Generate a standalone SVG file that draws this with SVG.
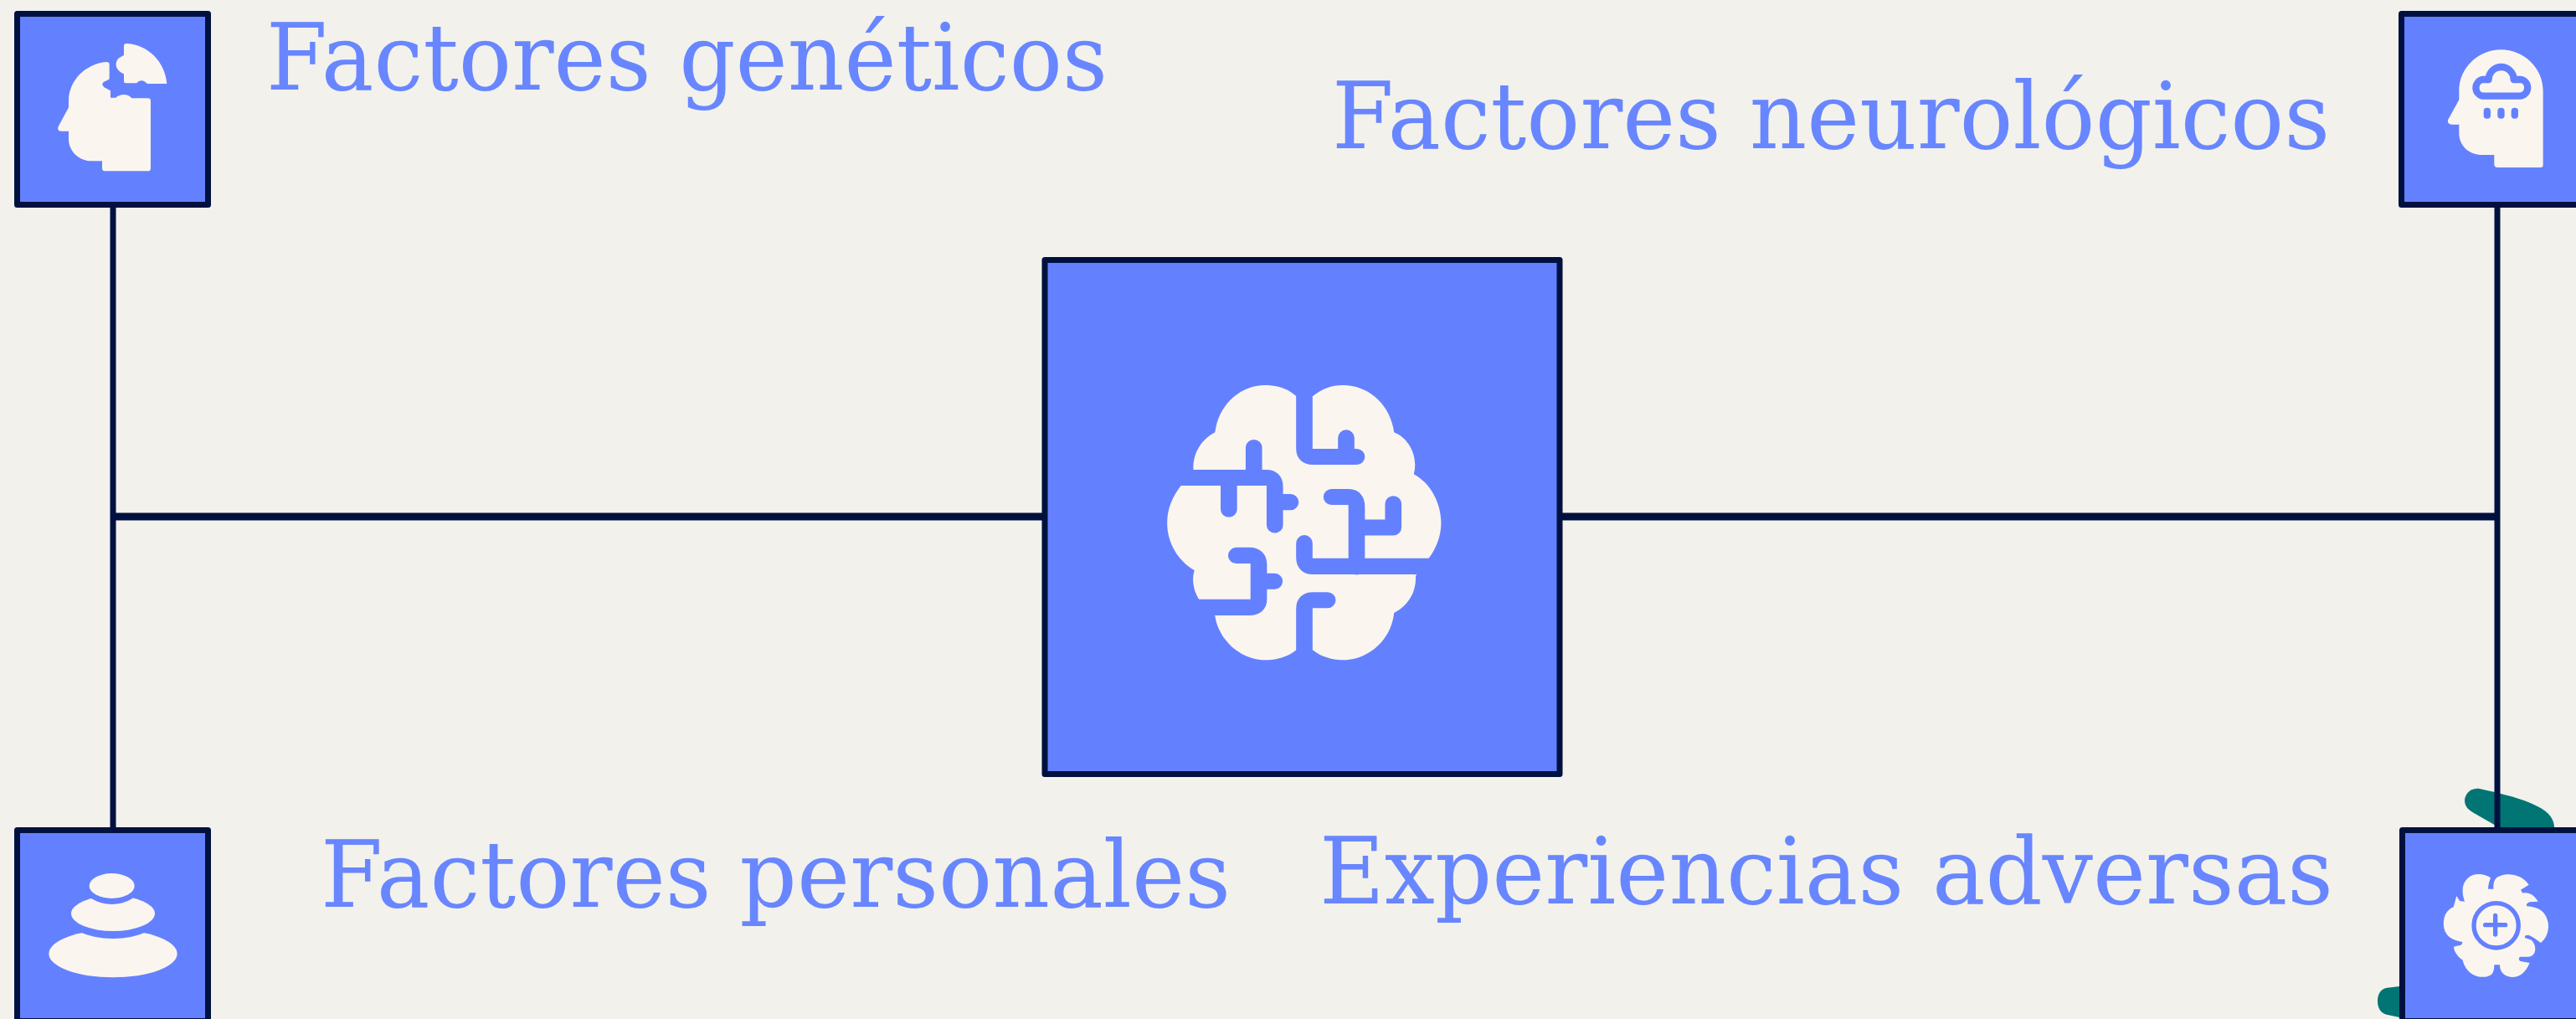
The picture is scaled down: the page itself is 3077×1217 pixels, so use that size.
<svg xmlns="http://www.w3.org/2000/svg" width="3077" height="1217" viewBox="0 0 3077 1217">
<style>
.box{fill:#6381ff;stroke:#00113f;stroke-width:7;stroke-linejoin:round}
.line{fill:none;stroke:#00113f;stroke-width:7}
.hline{fill:none;stroke:#00113f;stroke-width:9}
.ico{fill:#fbf5f0}
.blue{fill:#6381ff}
.cut{fill:none;stroke:#6381ff;stroke-linecap:round;stroke-linejoin:round}
.lbl{font-family:"DejaVu Serif","Liberation Serif",serif;font-size:110px;fill:#6886ff}
</style>
<rect width="3077" height="1217" fill="#f2f1ec"/>
<g id="blobs" fill="#007574">
<path d="M2962 942C2950 940 2944 950 2944 956C2944 964 2950 968 2955 971L2990 991L3051 991C3052 975 3040 966 3020 958C3005 952 2985 947 2962 942Z"/>
<path d="M2866 1178L2850 1180C2842 1182 2840 1190 2840 1196C2840 1206 2846 1211 2852 1212L2866 1215Z"/>
</g>
<g id="connectors">
<path class="line" d="M135 248V988M2983 248V988"/>
<path class="hline" d="M135 617H1245M1866 617H2983"/>
</g>
<g id="node-center">
<rect class="box" x="1248" y="310.500" width="615" height="614"/>
<g transform="translate(1200 280) scale(.4464 .4337)">
<path class="ico" d="M825 445C850 425 875 415 905 415C975 415 1033 470 1042 545C1080 560 1108 610 1095 660C1140 685 1168 740 1168 795C1168 830 1155 865 1135 892L1100 940C1102 990 1075 1025 1042 1042C1035 1115 975 1172 905 1172C875 1172 845 1162 825 1145H780C760 1162 730 1172 697 1172C630 1172 572 1115 563 1050L520 1005C505 980 500 950 508 925C465 900 435 850 435 795C435 755 450 720 472 692L505 648C503 605 525 565 563 545C572 470 630 415 697 415C730 415 760 425 780 445Z"/>
<g class="cut" stroke-width="44">
<path d="M802 400V590Q802 612 825 612H942M914 560V612"/>
<path d="M440 670H700Q723 670 723 695V800M667 587V670M600 670V757M723 737H765"/>
<path d="M875 723H920Q942 723 942 750V915M942 807H1040V742"/>
<path d="M802 850V890Q802 914 825 914H1170"/>
<path d="M620 884H655Q680 884 680 910V1005Q680 1027 655 1027H500M680 955H722"/>
<path d="M864 1007H825Q802 1007 802 1030V1190"/>
</g>
</g>
</g>
<g id="node-geneticos">
<rect class="box" x="20.500" y="16.500" width="228" height="228"/>
<g transform="scale(.3333)">
<path class="ico" d="M382 222C305 228 246 290 246 362V385L208 455Q204 470 222 470H246V500C248 545 285 577 330 577H366V605Q368 613 376 613H530Q540 613 540 603V362Q540 352 530 352H472C460 335 430 335 415 350H396V325C385 318 362 312 368 298C372 290 385 290 392 282V232Q392 222 382 222Z"/>
<path class="ico" d="M452 156C530 158 592 222 598 300H528C515 285 500 285 490 298H450Q444 298 444 290V265C425 258 410 240 418 220C422 208 432 204 444 198V165Q444 156 452 156Z"/>
</g>
</g>
<g id="node-neurologicos">
<rect class="box" x="2868.500" y="16.500" width="228" height="228"/>
<g transform="translate(2820 0) scale(.3333)">
<path class="ico" d="M502 178C420 178 352 245 352 325V358L312 430Q310 446 326 446H352V480C354 525 390 555 435 555H478V590Q480 600 490 600H645Q653 600 653 590V325C653 245 585 178 502 178Z"/>
<path d="M436 344H570A30 30 0 0 0 575 285H548A45 45 0 0 0 458 285H438A30 30 0 0 0 436 344Z" fill="none" stroke="#6381ff" stroke-width="25" stroke-linejoin="round"/>
<g class="blue"><rect x="440" y="386" width="25" height="39" rx="12"/><rect x="490" y="386" width="25" height="39" rx="12"/><rect x="539" y="386" width="25" height="39" rx="12"/></g>
</g>
</g>
<g id="node-personales">
<rect class="box" x="20.500" y="991.500" width="228" height="228"/>
<g transform="translate(0 960) scale(.3333)">
<ellipse class="ico" cx="405" cy="537" rx="230" ry="85"/>
<ellipse class="blue" cx="405" cy="393" rx="175" ry="90"/>
<ellipse class="ico" cx="405" cy="393" rx="150" ry="63"/>
<ellipse class="blue" cx="401" cy="294" rx="100" ry="66"/>
<ellipse class="ico" cx="401" cy="294" rx="81" ry="45"/>
</g>
</g>
<g id="node-adversas">
<rect class="box" x="2869.500" y="991.500" width="228" height="228"/>
<g transform="translate(2800 920) scale(.3333)">
<path class="ico" d="M516 425C516 410 522 395 525 385C505 370 465 365 445 385C422 405 420 435 432 470L414 468L403 450L392 490C365 500 352 530 358 565C365 600 395 610 424 615Q424 628 410 628L393 632C395 655 410 668 425 680C432 715 465 745 505 740C530 738 538 725 538 697H558C558 720 570 738 600 741C630 742 650 725 665 690L632 684Q622 678 630 668H660C690 665 692 630 672 608L648 600Q645 590 660 590C675 595 695 610 705 618C730 600 738 560 728 535C720 505 695 490 655 487Q650 478 665 472L695 470C680 445 660 435 640 440L633 428L662 410C640 375 590 365 560 378C538 385 535 400 535 425Z"/>
<circle cx="545" cy="556" r="80" fill="none" stroke="#6381ff" stroke-width="16"/>
<path d="M542 520V588M506 554H578" fill="none" stroke="#6381ff" stroke-width="16" stroke-linecap="round"/>
</g>
</g>
<g id="labels">
<text class="lbl" x="318" y="107" textLength="1005" lengthAdjust="spacingAndGlyphs">Factores genéticos</text>
<text class="lbl" x="1591" y="177" textLength="1192" lengthAdjust="spacingAndGlyphs">Factores neurológicos</text>
<text class="lbl" x="383" y="1083" textLength="1087" lengthAdjust="spacingAndGlyphs">Factores personales</text>
<text class="lbl" x="1576" y="1079" textLength="1211" lengthAdjust="spacingAndGlyphs">Experiencias adversas</text>
</g>
</svg>
